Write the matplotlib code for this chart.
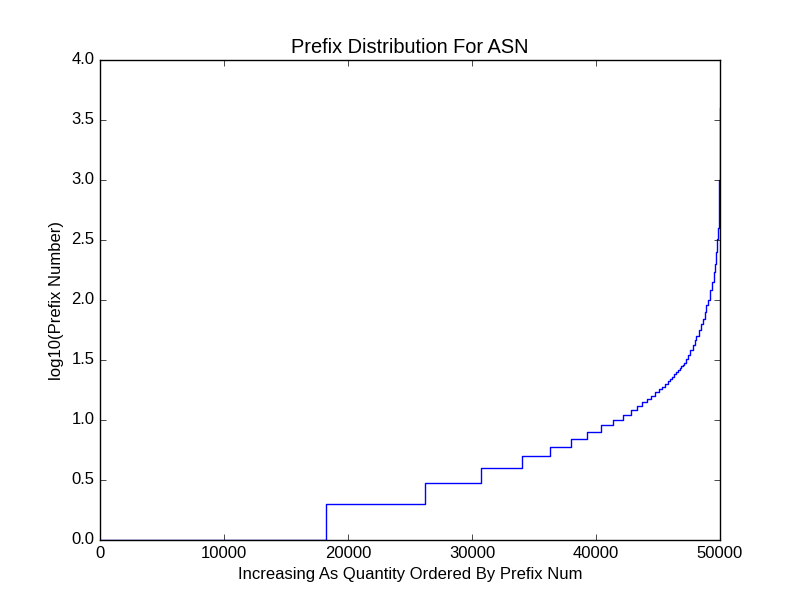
import numpy as np
import matplotlib
matplotlib.use("Agg")
import matplotlib.pyplot as plt

plt.style.use("classic")
plt.rcParams["font.family"] = ["Liberation Sans", "DejaVu Sans"]

# prefix count per ASN and the sorted index where that count starts
counts = [1, 2, 3, 4, 5, 6, 7, 8, 9, 10, 11, 12, 13, 14, 15, 16, 17, 18, 19,
          20, 21, 22, 23, 24, 25, 26, 27, 28, 29, 30, 32, 35, 38, 42, 46, 50,
          56, 63, 70, 80, 90, 100, 120, 140, 170, 200, 250, 320, 400, 600,
          1000, 2000, 4000]
starts = [0, 18200, 26200, 30700, 34000, 36300, 38000, 39300, 40400, 41400,
          42200, 42800, 43300, 43700, 44100, 44450, 44750, 45050, 45300,
          45600, 45800, 45970, 46130, 46290, 46450, 46600, 46750, 46880, 47000,
          47100, 47250, 47450, 47620, 47800, 47950, 48100,
          48300, 48450, 48600, 48780, 48900, 49000, 49200, 49330, 49480,
          49580, 49690, 49780, 49840, 49910, 49950, 49985, 50000]

x = np.array(starts + [50000])
y = np.log10(np.array(counts + [counts[-1]], dtype=float))

fig, ax = plt.subplots(figsize=(8, 6), dpi=100)
ax.step(x, y, where="post", color="b")
ax.set_xlim(0, 50000)
ax.set_ylim(0, 4.0)
ax.set_title("Prefix Distribution For ASN")
ax.set_xlabel("Increasing As Quantity Ordered By Prefix Num")
ax.set_ylabel("log10(Prefix Number)")
fig.savefig("out.png", dpi=100)
